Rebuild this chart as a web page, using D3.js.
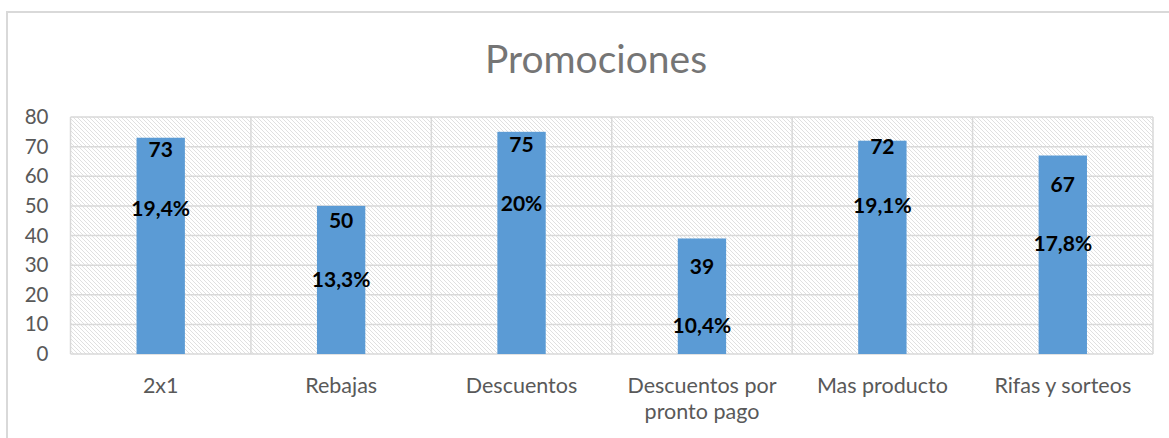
<!DOCTYPE html>
<html>
<head>
<meta charset="utf-8">
<script src="https://cdn.jsdelivr.net/npm/d3@7"></script>
<style>
  html, body { margin: 0; padding: 0; background: #fff; }
  svg { display: block; }
</style>
</head>
<body>
<script>
// ---- data ----
const title = "Promociones";
const categories = ["2x1", "Rebajas", "Descuentos", "Descuentos por pronto pago", "Mas producto", "Rifas y sorteos"];
const values = [73, 50, 75, 39, 72, 67];
const percentLabels = ["19,4%", "13,3%", "20%", "10,4%", "19,1%", "17,8%"];
// where each data-label block sits, in axis units (labels were hand-placed in the original)
const labelAnchor = [68.9, 44.9, 70.5, 29.4, 69.9, 57.0];
const yTicks = [0, 10, 20, 30, 40, 50, 60, 70, 80];

// ---- layout ----
const W = 1169, H = 438;
const plot = { left: 70.5, right: 1153, top: 117, bottom: 354 };
const font = "Lato, 'Open Sans', sans-serif";

const svg = d3.select("body").append("svg").attr("width", W).attr("height", H);

const defs = svg.append("defs");
const pat = defs.append("pattern")
  .attr("id", "hatch").attr("patternUnits", "userSpaceOnUse")
  .attr("width", 4).attr("height", 4);
pat.append("rect").attr("width", 4).attr("height", 4).attr("fill", "#fff");
pat.append("path").attr("d", "M-1,-1 L5,5 M-1,3 L1,5 M3,-1 L5,1")
  .attr("stroke", "#dcdcdc").attr("stroke-width", 0.9);

// outer chart frame
svg.append("rect").attr("x", 7).attr("y", 12).attr("width", W + 20).attr("height", H + 20)
  .attr("fill", "#fff").attr("stroke", "#d9d9d9").attr("stroke-width", 2);

const x = d3.scaleBand().domain(categories).range([plot.left, plot.right]).paddingInner(0).paddingOuter(0);
const y = d3.scaleLinear().domain([0, 80]).range([plot.bottom, plot.top]);
const barW = x.bandwidth() * 0.268;

// plot area background
svg.append("rect").attr("x", plot.left).attr("y", plot.top)
  .attr("width", plot.right - plot.left).attr("height", plot.bottom - plot.top)
  .attr("fill", "url(#hatch)");

// horizontal gridlines
svg.append("g").selectAll("line").data(yTicks).join("line")
  .attr("x1", plot.left).attr("x2", plot.right)
  .attr("y1", d => y(d)).attr("y2", d => y(d))
  .attr("stroke", "#d9d9d9").attr("stroke-width", 1.5);

// vertical gridlines at category boundaries
const bounds = categories.map(c => x(c)).concat([plot.right]);
svg.append("g").selectAll("line").data(bounds).join("line")
  .attr("x1", d => d).attr("x2", d => d)
  .attr("y1", plot.top).attr("y2", plot.bottom)
  .attr("stroke", "#d9d9d9").attr("stroke-width", 1.5);

// y axis labels
const yAxis = d3.axisLeft(y).tickValues(yTicks).tickSize(0).tickPadding(22);
const gy = svg.append("g").attr("transform", `translate(${plot.left},0)`).call(yAxis);
gy.select(".domain").remove();
gy.selectAll("text").attr("font-family", font).attr("font-size", 20.5).attr("fill", "#595959");

// bars
svg.append("g").selectAll("rect").data(values).join("rect")
  .attr("x", (d, i) => x(categories[i]) + (x.bandwidth() - barW) / 2)
  .attr("width", barW)
  .attr("y", d => y(d))
  .attr("height", d => y(0) - y(d))
  .attr("fill", "#5b9bd5");

// x axis labels
const xAxis = d3.axisBottom(x).tickSize(0).tickPadding(0).tickFormat(() => "");
const gx = svg.append("g").attr("transform", `translate(0,${plot.bottom})`).call(xAxis);
gx.select(".domain").remove();
gx.selectAll(".tick").each(function(d) {
  const t = d3.select(this).select("text");
  t.text(null).attr("y", 0).attr("dy", null)
    .attr("font-family", font).attr("font-size", 21.5).attr("fill", "#595959");
  const lines = d === "Descuentos por pronto pago" ? ["Descuentos por", "pronto pago"] : [d];
  lines.forEach((ln, k) => t.append("tspan").attr("x", 0).attr("y", 39 + k * 26).text(ln));
});

// data labels
const lbl = svg.append("g").attr("font-family", font).attr("font-weight", 700)
  .attr("font-size", 21).attr("fill", "#000").attr("text-anchor", "middle");
values.forEach((v, i) => {
  const cx = x(categories[i]) + x.bandwidth() / 2;
  const ay = y(labelAnchor[i]);
  lbl.append("text").attr("x", cx).attr("y", ay).attr("dy", "0.35em").text(v);
  lbl.append("text").attr("x", cx).attr("y", ay + 59).attr("dy", "0.35em").text(percentLabels[i]);
});

// title
svg.append("text").attr("x", 596).attr("y", 73).attr("text-anchor", "middle")
  .attr("font-family", font).attr("font-size", 39).attr("fill", "#757575").text(title);
</script>
</body>
</html>
